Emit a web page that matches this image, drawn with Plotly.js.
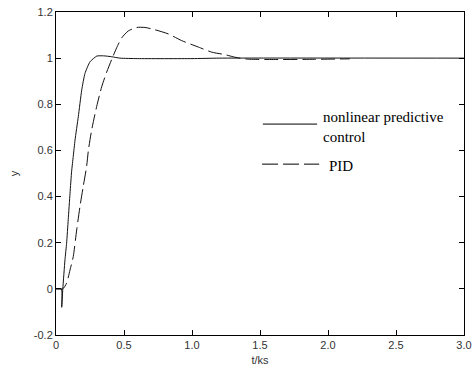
<!DOCTYPE html>
<html>
<head>
<meta charset="utf-8">
<script src="https://cdn.plot.ly/plotly-3.0.1.min.js"></script>
<style>html,body{margin:0;padding:0;background:#fff;}#chart{width:475px;height:369px;}</style>
</head>
<body>
<div id="chart"></div>
<script>
// Nonlinear predictive control response
var tNPC = [0, 0.04, 0.042, 0.05, 0.066, 0.078, 0.09, 0.103, 0.115, 0.127, 0.14, 0.164, 0.189, 0.213, 0.25, 0.3, 0.35, 0.41, 0.47, 0.6, 1.0, 1.2, 3.0];
var yNPC = [0, 0, -0.08, 0, 0.126, 0.198, 0.30, 0.414, 0.51, 0.575, 0.645, 0.746, 0.861, 0.934, 0.984, 1.009, 1.01, 1.006, 1.0, 0.998, 0.998, 1.0, 1.0];
// PID response
var tPID = [0, 0.05, 0.078, 0.103, 0.127, 0.152, 0.176, 0.2, 0.225, 0.238, 0.262, 0.299, 0.336, 0.373, 0.41, 0.446, 0.483, 0.532, 0.593, 0.654, 0.728, 0.826, 0.924, 1.047, 1.145, 1.243, 1.316, 1.4, 1.6, 1.9, 2.16];
var yPID = [0, 0, 0.025, 0.082, 0.14, 0.255, 0.356, 0.443, 0.53, 0.60, 0.688, 0.79, 0.876, 0.94, 0.995, 1.045, 1.088, 1.118, 1.133, 1.133, 1.123, 1.105, 1.076, 1.048, 1.026, 1.015, 1.004, 0.996, 0.994, 0.995, 0.997];

var xTickVals = [0, 0.5, 1.0, 1.5, 2.0, 2.5, 3.0];
var xTickText = ["0", "0.5", "1.0", "1.5", "2.0", "2.5", "3.0"];
var yTickVals = [-0.2, 0, 0.2, 0.4, 0.6, 0.8, 1, 1.2];
var yTickText = ["-0.2", "0", "0.2", "0.4", "0.6", "0.8", "1", "1.2"];
var seriesNames = ["nonlinear predictive<br>control", "PID"];

var traces = [
  {x: tNPC, y: yNPC, mode: 'lines', name: seriesNames[0], line: {color: '#111', width: 1, shape: 'spline', smoothing: 0.5}, showlegend: false},
  {x: tPID, y: yPID, mode: 'lines', name: seriesNames[1], line: {color: '#111', width: 1, dash: '14px,5px', shape: 'spline', smoothing: 0.6}, showlegend: false}
];

var axisCommon = {
  showgrid: false, zeroline: false, showline: true, linecolor: '#000', linewidth: 1,
  mirror: 'ticks', ticks: 'inside', ticklen: 5, tickcolor: '#000', tickwidth: 1,
  tickfont: {family: 'Liberation Sans, Arial, sans-serif', size: 11, color: '#333'}
};

var layout = {
  width: 475, height: 369,
  margin: {l: 56, r: 11, t: 12, b: 34},
  paper_bgcolor: '#fff', plot_bgcolor: '#fff',
  showlegend: false,
  xaxis: Object.assign({}, axisCommon, {
    range: [0, 3.0], tickvals: xTickVals, ticktext: xTickText,
    title: {text: 't/ks', font: {family: 'Liberation Sans, Arial, sans-serif', size: 11, color: '#333'}, standoff: 6}
  }),
  yaxis: Object.assign({}, axisCommon, {
    range: [-0.2, 1.2], tickvals: yTickVals, ticktext: yTickText,
    title: {text: 'y', font: {family: 'Liberation Sans, Arial, sans-serif', size: 11, color: '#333'}, standoff: 12}
  }),
  shapes: [
    {type: 'line', xref: 'paper', yref: 'paper', x0: 0.507, x1: 0.640, y0: 0.653, y1: 0.653, line: {color: '#000', width: 1}},
    {type: 'line', xref: 'paper', yref: 'paper', x0: 0.505, x1: 0.645, y0: 0.529, y1: 0.529, line: {color: '#000', width: 1, dash: '16px,5px'}}
  ],
  annotations: [
    {xref: 'paper', yref: 'paper', x: 0.650, y: 0.645, xanchor: 'left', yanchor: 'middle', align: 'left', showarrow: false,
     text: seriesNames[0], font: {family: 'Liberation Serif, Times New Roman, serif', size: 15, color: '#000'}},
    {xref: 'paper', yref: 'paper', x: 0.665, y: 0.523, xanchor: 'left', yanchor: 'middle', align: 'left', showarrow: false,
     text: seriesNames[1], font: {family: 'Liberation Serif, Times New Roman, serif', size: 15, color: '#000'}}
  ]
};

Plotly.newPlot('chart', traces, layout, {displayModeBar: false, staticPlot: true});
</script>
</body>
</html>
